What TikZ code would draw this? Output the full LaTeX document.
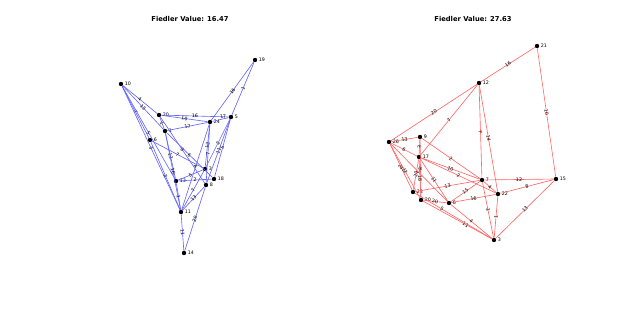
\documentclass[tikz,border=0pt]{standalone}
\usepackage{fontspec}
\setmainfont{DejaVu Sans}

\begin{document}
\begin{tikzpicture}[x=0.025cm,y=-0.025cm, every node/.style={font=\fontsize{3.4}{4}\selectfont},
    vtx/.style={circle,fill=black,inner sep=0pt,minimum size=1.1mm,label={[inner sep=0.8pt]right:#1}},
    bedge/.style={draw=blue!60!white,line width=0.45pt},
    redge/.style={draw=red!60!white,line width=0.45pt},
    wt/.style={midway,sloped,inner sep=0.3pt},
    ttl/.style={font=\bfseries\fontsize{4.8}{6}\selectfont}]
                \useasboundingbox (0,0) rectangle (641,323);

                \node[ttl] (t1) at (190,19) {Fiedler Value: 16.47};
                \node[ttl] (t2) at (473,19) {Fiedler Value: 27.63};

                % left graph
                \node[vtx=10] (a10) at (121,84) {};
                \node[vtx=19] (a19) at (255,60) {};
                \node[vtx=20] (a20) at (159,115) {};
                \node[vtx=1] (a1) at (165,131) {};
                \node[vtx=24] (a24) at (210,122) {};
                \node[vtx=5] (a5) at (231,117) {};
                \node[vtx=6] (a6) at (150,140) {};
                \node[vtx=3] (a3) at (205,169) {};
                \node[vtx=18] (a18) at (214,179) {};
                \node[vtx=8] (a8) at (206,185) {};
                \node[vtx=13] (a13) at (176,181) {};
                \node[vtx=11] (a11) at (181,212) {};
                \node[vtx=14] (a14) at (184,253) {};

                \draw[bedge] (a10)--(a20) node[wt] {4};
                \draw[bedge] (a10)--(a1) node[wt] {13};
                \draw[bedge] (a10)--(a6) node[wt] {7};
                \draw[bedge] (a10)--(a13) node[wt] {5};
                \draw[bedge] (a10)--(a11) node[wt] {3};
                \draw[bedge] (a19)--(a24) node[wt] {16};
                \draw[bedge] (a19)--(a5) node[wt] {1};
                \draw[bedge] (a20)--(a24) node[wt] {10};
                \draw[bedge] (a20)--(a5) node[wt] {16};
                \draw[bedge] (a20)--(a1) node[wt] {1};
                \draw[bedge] (a20)--(a8) node[wt] {9};
                \draw[bedge] (a1)--(a24) node[wt] {17};
                \draw[bedge] (a1)--(a18) node[wt] {6};
                \draw[bedge] (a1)--(a13) node[wt] {13};
                \draw[bedge] (a1)--(a11) node[wt] {16};
                \draw[bedge] (a6)--(a3) node[wt] {7};
                \draw[bedge] (a6)--(a11) node[wt] {2};
                \draw[bedge] (a24)--(a5) node[wt,pos=0.7,above] {17};
                \draw[bedge] (a24)--(a3) node[wt] {12};
                \draw[bedge] (a24)--(a8) node[wt] {7};
                \draw[bedge] (a24)--(a11) node[wt] {4};
                \draw[bedge] (a5)--(a3) node[wt] {2};
                \draw[bedge] (a5)--(a18) node[wt] {5};
                \draw[bedge] (a5)--(a8) node[wt] {11};
                \draw[bedge] (a13)--(a3) node[wt] {5};
                \draw[bedge] (a13)--(a18) node[wt] {2};
                \draw[bedge] (a13)--(a11) node[wt] {1};
                \draw[bedge] (a3)--(a11) node[wt] {7};
                \draw[bedge] (a8)--(a11) node[wt] {13};
                \draw[bedge] (a8)--(a14) node[wt] {20};
                \draw[bedge] (a11)--(a14) node[wt] {11};

                % right graph
                \node[vtx=21] (b21) at (537,46) {};
                \node[vtx=12] (b12) at (479,83) {};
                \node[vtx=26] (b26) at (389,142) {};
                \node[vtx=9] (b9) at (420,137) {};
                \node[vtx=17] (b17) at (419,157) {};
                \node[vtx=7] (b7) at (482,180) {};
                \node[vtx=15] (b15) at (556,179) {};
                \node[vtx=22] (b22) at (498,194) {};
                \node[vtx=23] (b23) at (413,192) {};
                \node[vtx=20] (b20) at (421,200) {};
                \node[vtx=6] (b6) at (449,203) {};
                \node[vtx=3] (b3) at (494,240) {};

                \draw[redge] (b21)--(b12) node[wt] {16};
                \draw[redge] (b26)--(b12) node[wt] {20};
                \draw[redge] (b21)--(b15) node[wt] {10};
                \draw[redge] (b12)--(b17) node[wt] {7};
                \draw[redge] (b12)--(b7) node[wt] {7};
                \draw[redge] (b12)--(b22) node[wt] {14};
                \draw[redge] (b26)--(b9) node[wt] {13};
                \draw[redge] (b26)--(b17) node[wt] {6};
                \draw[redge] (b26)--(b23) node[wt] {24};
                \draw[redge] (b26)--(b20) node[wt] {12};
                \draw[redge] (b26)--(b6) node[wt] {7};
                \draw[redge] (b9)--(b17) node[wt] {3};
                \draw[redge] (b9)--(b7) node[wt] {2};
                \draw[redge] (b9)--(b20) node[wt] {8};
                \draw[redge] (b17)--(b7) node[wt] {10};
                \draw[redge] (b17)--(b22) node[wt] {2};
                \draw[redge] (b17)--(b6) node[wt] {11};
                \draw[redge] (b17)--(b23) node[wt] {20};
                \draw[redge] (b17)--(b20) node[wt] {18};
                \draw[redge] (b23)--(b7) node[wt] {13};
                \draw[redge] (b20)--(b6) node[wt] {20};
                \draw[redge] (b6)--(b7) node[wt] {15};
                \draw[redge] (b6)--(b22) node[wt] {16};
                \draw[redge] (b7)--(b22) node[wt] {4};
                \draw[redge] (b7)--(b15) node[wt] {12};
                \draw[redge] (b22)--(b15) node[wt] {8};
                \draw[redge] (b7)--(b3) node[wt] {3};
                \draw[redge] (b22)--(b3) node[wt] {1};
                \draw[redge] (b15)--(b3) node[wt] {13};
                \draw[redge] (b20)--(b3) node[wt,pos=0.62] {11};
                \draw[redge] (b23)--(b3) node[wt,pos=0.35] {5};
                \draw[redge] (b6)--(b3) node[wt] {4};
\end{tikzpicture}
\end{document}
